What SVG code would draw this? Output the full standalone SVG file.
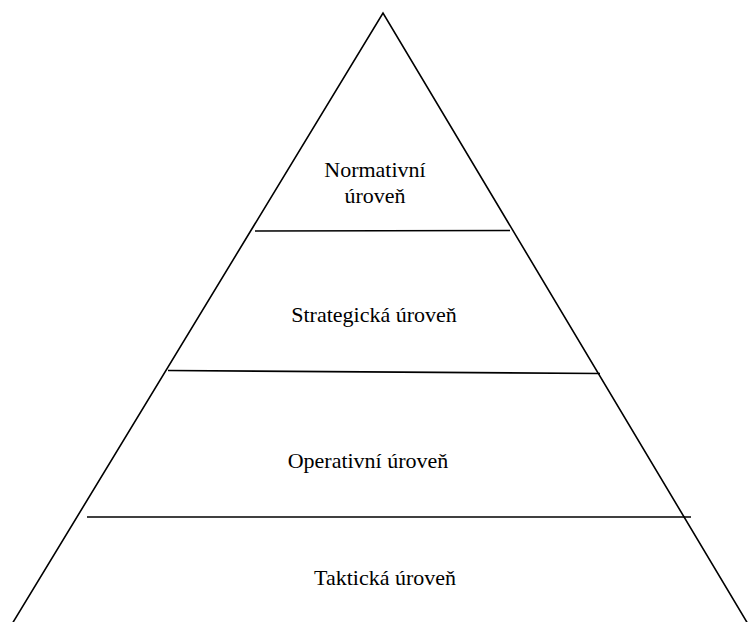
<svg xmlns="http://www.w3.org/2000/svg" width="749" height="622" viewBox="0 0 749 622">
<style>
.ln{stroke:#000;stroke-width:1.6;fill:none}
.t{font-family:"Liberation Serif","Times New Roman",serif;font-size:22px;fill:#000;text-anchor:middle}
</style>
<rect width="749" height="622" fill="#fff"/>
<g id="connectors">
<path class="ln" d="M12,624 L383,13 L748,624"/>
<line class="ln" x1="255" y1="231" x2="510" y2="230.5"/>
<line class="ln" x1="168" y1="370.5" x2="600" y2="373.5"/>
<line class="ln" x1="87" y1="517" x2="691" y2="517"/>
</g>
<g id="normativni"><text class="t" x="375" y="177">Normativní</text><text class="t" x="375" y="203">úroveň</text></g>
<g id="strategicka"><text class="t" x="374" y="322">Strategická úroveň</text></g>
<g id="operativni"><text class="t" x="368" y="468">Operativní úroveň</text></g>
<g id="takticka"><text class="t" x="385" y="585">Taktická úroveň</text></g>
</svg>
